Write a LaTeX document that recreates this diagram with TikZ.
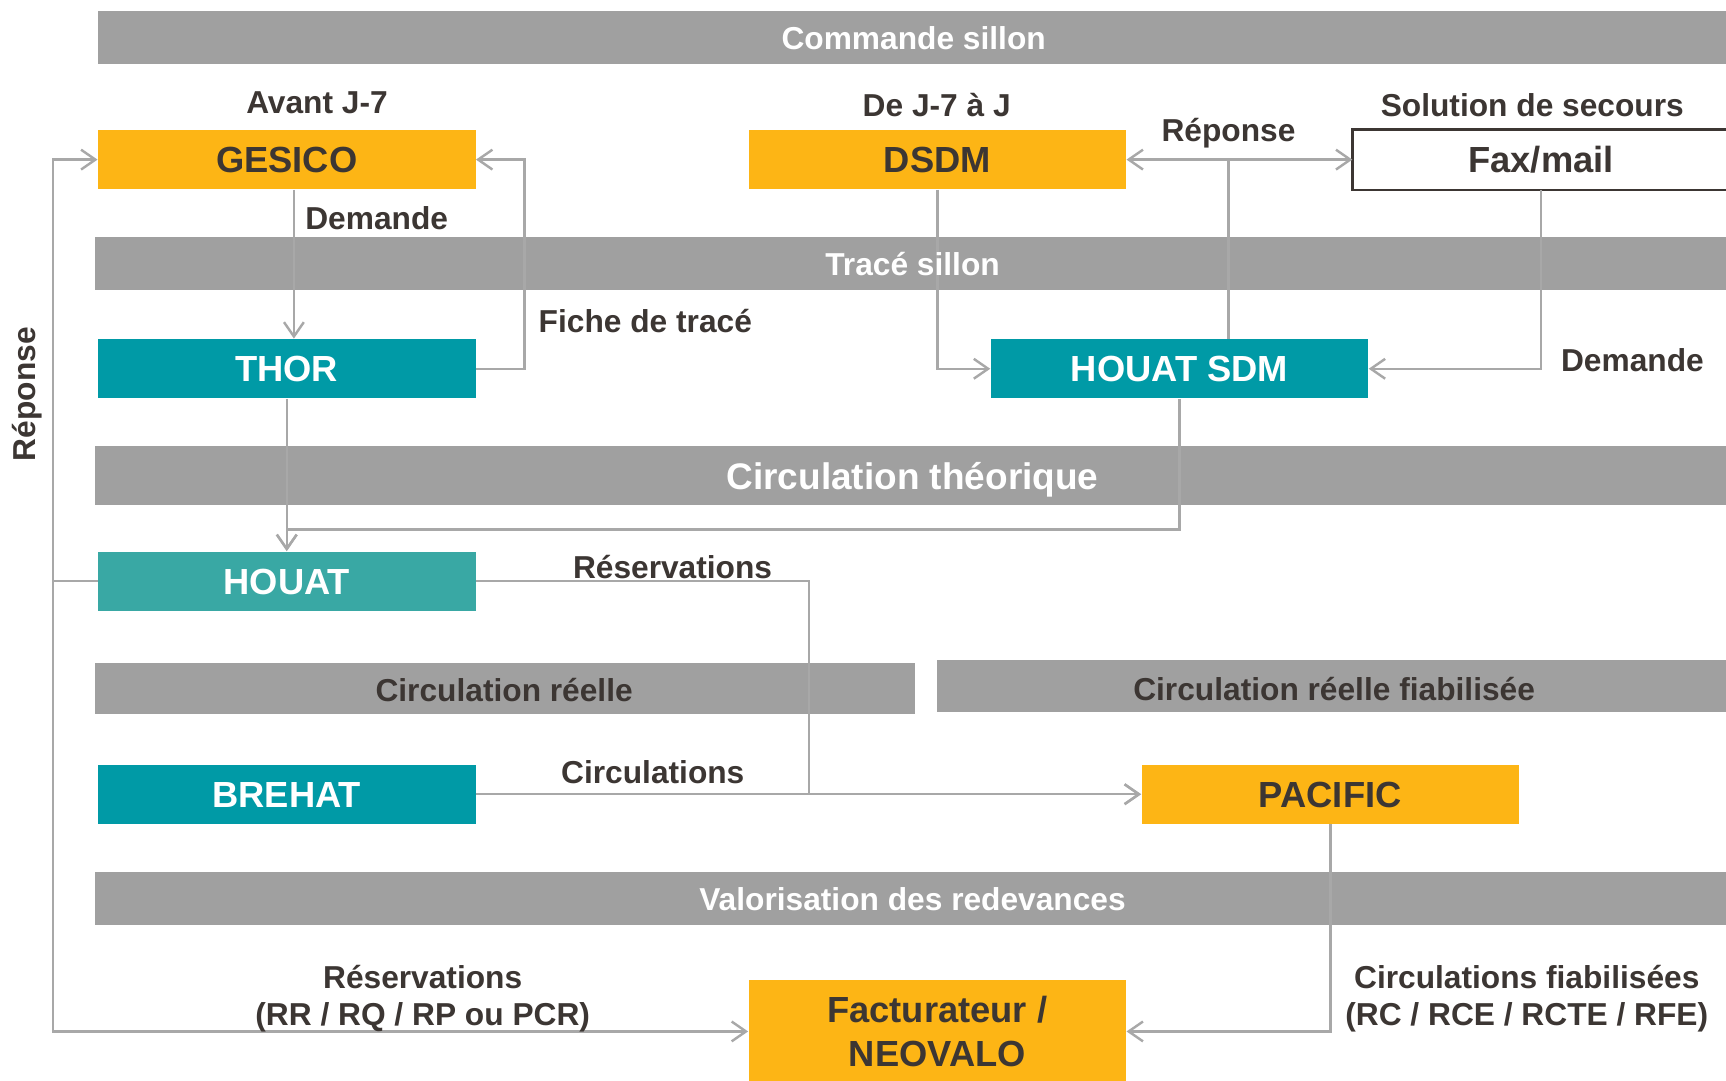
\documentclass[tikz,border=0pt]{standalone}
\usepackage{fontspec}
\setmainfont{Liberation Sans}
\usetikzlibrary{arrows.meta}
\definecolor{orangeB}{HTML}{FDB515}
\definecolor{tealB}{HTML}{009AA6}
\definecolor{tealL}{HTML}{39A8A4}
\definecolor{bandgray}{HTML}{A0A0A0}
\definecolor{linegray}{HTML}{A8A8A8}
\definecolor{darktxt}{HTML}{3C3633}
\tikzset{
  lblfont/.style={font=\bfseries\fontsize{14.4}{17}\selectfont},
  boxfont/.style={font=\bfseries\fontsize{16.5}{20}\selectfont},
  band/.style={fill=bandgray, inner sep=0pt},
  bandtext/.style={lblfont, text=white, inner sep=0pt, text height=10.4pt, text depth=0pt},
  sysbox/.style={inner sep=0pt, minimum width=171.5pt, minimum height=27pt, boxfont, text height=11.9pt, text depth=0pt},
  orangebox/.style={sysbox, fill=orangeB, text=darktxt},
  tealbox/.style={sysbox, fill=tealB, text=white},
  lbl/.style={lblfont, text=darktxt, inner sep=0pt, text height=10.4pt, text depth=0pt},
  lbl2/.style={lblfont, text=darktxt, inner sep=0pt, align=center},
  conn/.style={draw=linegray, line width=1.1pt},
  arr/.style={conn, -{Straight Barb[length=6.5pt,width=9pt,line width=1.1pt]}},
  arrboth/.style={conn, {Straight Barb[length=6.5pt,width=9pt,line width=1.1pt]}-{Straight Barb[length=6.5pt,width=9pt,line width=1.1pt]}}
}
\begin{document}
\begin{tikzpicture}[x=0.5pt,y=-0.5pt]
\useasboundingbox (0,0) rectangle (1568,982);
\fill[white] (0,0) rectangle (1568,982);

% bands (fills)
\node[band, minimum width=739.5pt, minimum height=24pt] (b1) at (828.5,34) {};
\node[band, minimum width=741pt, minimum height=24pt] (b2) at (827,239) {};
\node[band, minimum width=741pt, minimum height=27pt] (b3) at (827,432) {};
\node[band, minimum width=372.5pt, minimum height=23.5pt] (b4) at (458.5,625.5) {};
\node[band, minimum width=358.5pt, minimum height=23.5pt] (b5) at (1209.5,623.5) {};
\node[band, minimum width=741pt, minimum height=24pt] (b6) at (827,816) {};

% system boxes
\node[orangebox] (gesico) at (260.5,145) {GESICO};
\node[orangebox] (dsdm) at (851.5,145) {DSDM};
\node[sysbox, text=darktxt, minimum width=171pt] (fax) at (1400,145) {Fax/mail};
\node[tealbox] (thor) at (260.5,335) {THOR};
\node[tealbox] (hsdm) at (1071.5,335) {HOUAT SDM};
\node[tealbox, fill=tealL] (houat) at (260.5,528) {HOUAT};
\node[tealbox] (brehat) at (260.5,721.5) {BREHAT};
\node[orangebox] (pacific) at (1208.5,721.5) {PACIFIC};
\node[orangebox, minimum height=47pt, align=center, text height=, text depth=, font=\bfseries\fontsize{16.5}{20}\selectfont] (fact) at (851.5,937) {Facturateur /\\NEOVALO};

% fax border (open to the right edge)
\coordinate (redge) at (1568,0);
\draw[darktxt, line width=1pt] (fax.north west -| redge) -- (fax.north west) -- (fax.south west) -- (fax.south west -| redge);

% connectors
\draw[arr] ([xshift=3.25pt]gesico.south) -- ([xshift=3.25pt]thor.north);
\draw[arr] (thor.east) -- ++(44,0) |- (gesico.east);
\draw[arr] (dsdm.south) |- (hsdm.west);
\draw[arrboth] (dsdm.east) -- (fax.west);
\coordinate (j1) at (1116,145);
\draw[conn] (j1) -- (j1 |- hsdm.north);
\draw[arr] (fax.south) |- (hsdm.east);
\draw[arr] (thor.south) -- (houat.north);
\coordinate (j2) at (260.5,481);
\draw[arr] (hsdm.south) |- (j2) -- (houat.north);
\coordinate (j3) at (735,721.5);
\draw[arr] (houat.east) -| (j3) -- (pacific.west);
\draw[arr] (brehat.east) -- (pacific.west);
\coordinate (j4) at (48,528);
\draw[conn] (houat.west) -- (j4);
\draw[arr] (j4) |- (gesico.west);
\draw[arr] (j4) |- (fact.west);
\draw[arr] (pacific.south) |- (fact.east);

% band titles
\node[bandtext] (t1) at (830,35) {Commande sillon};
\node[bandtext] (t2) at (829,240) {Tracé sillon};
\node[bandtext, font=\bfseries\fontsize{16.8}{20}\selectfont, text height=12.1pt] (t3) at (829,433) {Circulation théorique};
\node[bandtext, text=darktxt] (t4) at (458,627) {Circulation réelle};
\node[bandtext, text=darktxt] (t5) at (1212,626) {Circulation réelle fiabilisée};
\node[bandtext] (t6) at (829,817) {Valorisation des redevances};

% labels
\node[lbl] (l1) at (288,93) {Avant J-7};
\node[lbl] (l2) at (851,95) {De J-7 à J};
\node[lbl] (l3) at (1392,95) {Solution de secours};
\node[lbl] (l4) at (1116,118) {Réponse};
\node[lbl, anchor=west] (l5) at (277,198) {Demande};
\node[lbl, anchor=west] (l6) at (489,292) {Fiche de tracé};
\node[lbl] (l7) at (1483,327) {Demande};
\node[lbl] (l8) at (611,515) {Réservations};
\node[lbl] (l9) at (593,701) {Circulations};
\node[lbl2] (l10) at (384,907) {Réservations\\(RR / RQ / RP ou PCR)};
\node[lbl2] (l11) at (1387,907) {Circulations fiabilisées\\(RC / RCE / RCTE / RFE)};
\node[lbl, rotate=90] (l12) at (22,358) {Réponse};
\end{tikzpicture}
\end{document}
